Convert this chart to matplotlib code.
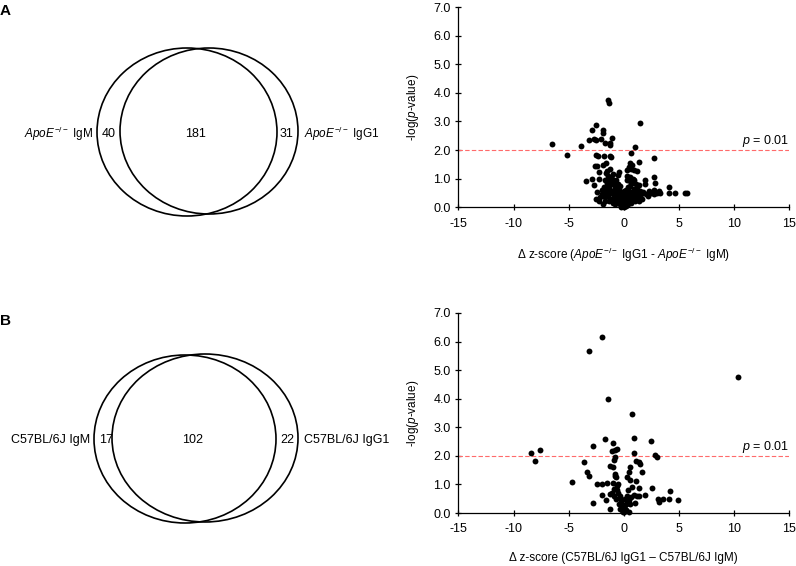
import numpy as np
import matplotlib
matplotlib.use("Agg")
import matplotlib.pyplot as plt
from matplotlib.patches import Ellipse

plt.rcParams['font.family'] = ['Liberation Sans', 'DejaVu Sans']
plt.rcParams['mathtext.fontset'] = 'custom'
plt.rcParams['mathtext.rm'] = 'Liberation Sans'
plt.rcParams['mathtext.it'] = 'Liberation Sans:italic'
plt.rcParams['mathtext.default'] = 'regular'
plt.rcParams['axes.unicode_minus'] = False

# Venn counts (only left, overlap, only right)
venn_a_counts = [40, 181, 31]
venn_a_names = [r'$\mathit{ApoE}^{-/-}$ IgM', r'$\mathit{ApoE}^{-/-}$ IgG1']
venn_b_counts = [17, 102, 22]
venn_b_names = ['C57BL/6J IgM', 'C57BL/6J IgG1']

# volcano A: delta z-score vs -log(p)
a_dz = [-6.55, -5.18, -3.9, -3.16, -2.85, -2.7, -2.55, -2.49, -2.1, -1.92, -1.86, -1.65, -1.2, -1.22,
        -1.08, -1.4, -1.3, 1.46, 1.0, 0.68, 2.76, -2.55, -2.34, -1.8, -1.13, -1.25,
        -2.64, -2.4, -1.86, -1.58, -1.26, -2.25, -1.6, -1.5, -0.38, -0.47, -1.4, -1.1, -1.7, -1.45,
        -1.15, -0.7, -2.85, -2.25, -3.4, 1.43, 0.62, 0.77, 0.68, 0.93, 1.2, 0.31, 0.62, 0.85, 0.92,
        2.76, 2.82, 1.97, 1.9, 1.37, 0.3, 0.3, 0.5, -1.0, -1.3,
        -2.7, -2.4, -1.95, -2.16, -1.7, -1.2, -0.9, -0.5, -1.7, -2.2, -2.0, -1.5, -1.3, -1.0, -0.8,
        -0.5, -1.8, -1.6, -1.4, -1.1, -0.7, -0.6, -0.4, -0.3, -0.2, -0.1, -0.5, -0.8, -1.0, -1.3,
        -0.3, -0.15, 0.0, 0.1, 0.2, -0.4, -0.9, -1.2, -0.6, -0.2, 0.0, 0.1, -0.05, 0.25, -0.25,
        -0.7, -1.5, -2.5, -1.9, -0.95, -0.35,
        0.3, 0.4, 0.5, 0.6, 0.7, 0.8, 0.9, 1.0, 1.1, 1.2, 1.3, 1.5, 1.6, 1.8, 2.0, 2.2, 2.45, 2.73,
        3.0, 3.3, 4.08, 4.08, 4.69, 5.59, 5.74, 0.4, 0.6, 0.9, 1.1, 0.2, 0.5, 0.35, 0.15, 0.7, 1.7,
        1.4, 2.3, 1.0, 0.55, 1.25, 0.8, 0.05, 2.8, 3.2]
a_logp = [2.2, 1.84, 2.15, 2.35, 2.69, 2.37, 2.34, 2.89, 2.37, 2.69, 2.6, 2.23, 2.23, 2.17,
          2.42, 3.74, 3.66, 2.93, 2.11, 1.9, 1.72, 1.82, 1.79, 1.79, 1.76, 1.78,
          1.43, 1.43, 1.47, 1.55, 1.35, 1.23, 1.2, 1.25, 1.23, 1.12, 1.1, 1.0, 0.95, 1.0,
          1.04, 0.95, 0.98, 0.97, 0.91, 1.58, 1.53, 1.47, 1.35, 1.3, 1.25, 1.29, 1.06, 1.0, 0.95,
          1.04, 0.86, 0.94, 0.82, 0.77, 1.1, 0.95, 1.4, 1.15, 0.9,
          0.77, 0.54, 0.6, 0.36, 0.36, 0.48, 0.25, 0.3, 0.2, 0.2, 0.45, 0.65, 0.75, 0.8, 0.7,
          0.8, 0.7, 0.5, 0.4, 0.3, 0.55, 0.45, 0.6, 0.4, 0.3, 0.2, 0.15, 0.1, 0.15, 0.2,
          0.1, 0.05, 0.02, 0.08, 0.15, 0.22, 0.4, 0.6, 0.65, 0.5, 0.35, 0.25, 0.12, 0.05, 0.02,
          0.35, 0.85, 0.3, 0.1, 0.55, 0.75,
          0.3, 0.45, 0.2, 0.35, 0.5, 0.3, 0.45, 0.6, 0.35, 0.5, 0.4, 0.55, 0.45, 0.52, 0.45, 0.4, 0.48, 0.59,
          0.48, 0.48, 0.71, 0.5, 0.5, 0.48, 0.48, 0.7, 0.75, 0.65, 0.8, 0.6, 0.58, 0.12, 0.4, 0.15, 0.3,
          0.2, 0.55, 0.2, 0.9, 0.7, 0.85, 0.55, 0.45, 0.55]

# volcano B
b_dz = [-1.95, -3.12, 10.36, -1.44, 0.77, -1.71, -2.8, 0.92, 2.49, -8.46, -7.62, -8.07, -0.95, -1.1,
        -0.83, -0.59, -0.8, 0.98, 2.88, 3.03, -3.6, -1.2, -1.0, -0.85, 1.16, 1.37, 1.52, 1.67, 0.55,
        0.47, 0.3,
        -3.3, -3.16, -4.66, -2.46, -2.0, -1.54, -1.0, -0.8, -0.6, -0.8, -0.7, 0.6, 1.13, 2.58, 4.24,
        1.43, -0.9, -0.5,
        -1.95, -1.63, -1.27, -2.8, -1.2, 3.12, 3.24, 3.6, 4.15, 4.96, 1.97, 1.4, 1.22, 0.9, 0.7, 1.0,
        0.5, 0.3, 0.2, 0.1, -0.1, 0.0, -0.2, -0.3, -0.5, -0.7, -0.9, -0.4, -0.15, 0.05, -0.05, 0.15,
        0.4, -0.6, -0.35, 0.25, 0.6, 0.8, -1.1, 0.45, -0.25, 0.35]
b_logp = [6.15, 5.67, 4.75, 3.98, 3.47, 2.59, 2.34, 2.64, 2.52, 2.11, 2.2, 1.82, 2.44, 2.18,
          2.2, 2.25, 1.97, 2.11, 2.03, 1.97, 1.77, 1.65, 1.61, 1.84, 1.82, 1.77, 1.73, 1.45, 1.6,
          1.45, 1.27,
          1.45, 1.31, 1.07, 1.0, 1.03, 1.05, 1.05, 1.3, 0.95, 1.38, 1.25, 1.15, 1.11, 0.86, 0.77,
          0.88, 0.85, 1.0,
          0.62, 0.44, 0.65, 0.36, 0.13, 0.48, 0.4, 0.48, 0.48, 0.46, 0.63, 0.6, 0.58, 0.64, 0.55, 0.35,
          0.45, 0.6, 0.3, 0.15, 0.05, 0.2, 0.4, 0.6, 0.7, 0.5, 0.6, 0.3, 0.1, 0.02, 0.25, 0.5,
          0.8, 0.8, 0.15, 0.1, 0.3, 0.9, 0.7, 0.05, 0.5, 0.35]

xticks = [-15, -10, -5, 0, 5, 10, 15]
yticks = [0, 1, 2, 3, 4, 5, 6, 7]
p_cut = 0.01

fig = plt.figure(figsize=(7.96, 5.66), dpi=100)

# venn diagrams drawn on a pixel-space overlay
ov = fig.add_axes([0, 0, 1, 1])
ov.set_xlim(0, 796)
ov.set_ylim(566, 0)
ov.axis('off')

def venn(cy, left, right, counts, names, name_size):
    for (cx, ccy, w, h) in [left, right]:
        ov.add_patch(Ellipse((cx, ccy), w, h, fill=False, ec='black', lw=1.2))
    ty = cy
    ov.text(left[0] - left[2] / 2 - 4, ty, names[0], ha='right', va='center', fontsize=name_size)
    ov.text(left[0] - left[2] / 2 + 12, ty, str(counts[0]), ha='center', va='center', fontsize=9)
    ov.text((left[0] + right[0]) / 2 - 2, ty, str(counts[1]), ha='center', va='center', fontsize=9)
    ov.text(right[0] + right[2] / 2 - 11, ty, str(counts[2]), ha='center', va='center', fontsize=9)
    ov.text(right[0] + right[2] / 2 + 6, ty, names[1], ha='left', va='center', fontsize=name_size)

venn(134, (187, 132, 180, 168), (209, 131, 178, 166), venn_a_counts, venn_a_names, 8.5)
venn(440, (185, 439, 182, 168), (205, 438, 186, 168), venn_b_counts, venn_b_names, 9)

ov.text(0, 11, 'A', fontsize=11, fontweight='bold', ha='left', va='center')
ov.text(0, 321, 'B', fontsize=11, fontweight='bold', ha='left', va='center')

def volcano(rect, dz, logp, xlabel):
    ax = fig.add_axes(rect)
    ax.scatter(dz, logp, s=18, c='black', linewidths=0, zorder=3, clip_on=False)
    thr = -np.log10(p_cut)
    ax.axhline(thr, color='#ff6b6b', lw=0.8, ls=(0, (4, 2)), zorder=2)
    ax.text(15, thr + 0.03, r'$\mathit{p}$ = 0.01', ha='right', va='bottom', fontsize=9)
    ax.set_xlim(-15, 15)
    ax.set_ylim(0, 7)
    ax.set_xticks(xticks)
    ax.set_yticks(yticks)
    ax.set_yticklabels(['%.1f' % v for v in yticks])
    for s in ['top', 'right']:
        ax.spines[s].set_visible(False)
    for s in ['left', 'bottom']:
        ax.spines[s].set_linewidth(0.9)
    ax.tick_params(direction='inout', length=5, width=0.9, labelsize=9, pad=3)
    ax.tick_params(axis='x', pad=5)
    ax.set_ylabel(r'-log($\mathit{p}$-value)', fontsize=8.5, labelpad=9)
    ax.set_xlabel(xlabel, fontsize=8.5, labelpad=12)
    return ax

volcano([0.576, 0.634, 0.415, 0.3534], a_dz, a_logp,
        r'Δ z-score ($\mathit{ApoE}^{-/-}$ IgG1 - $\mathit{ApoE}^{-/-}$ IgM)')
volcano([0.576, 0.0936, 0.415, 0.3534], b_dz, b_logp,
        'Δ z-score (C57BL/6J IgG1 – C57BL/6J IgM)')

fig.savefig('out.png', dpi=100)
